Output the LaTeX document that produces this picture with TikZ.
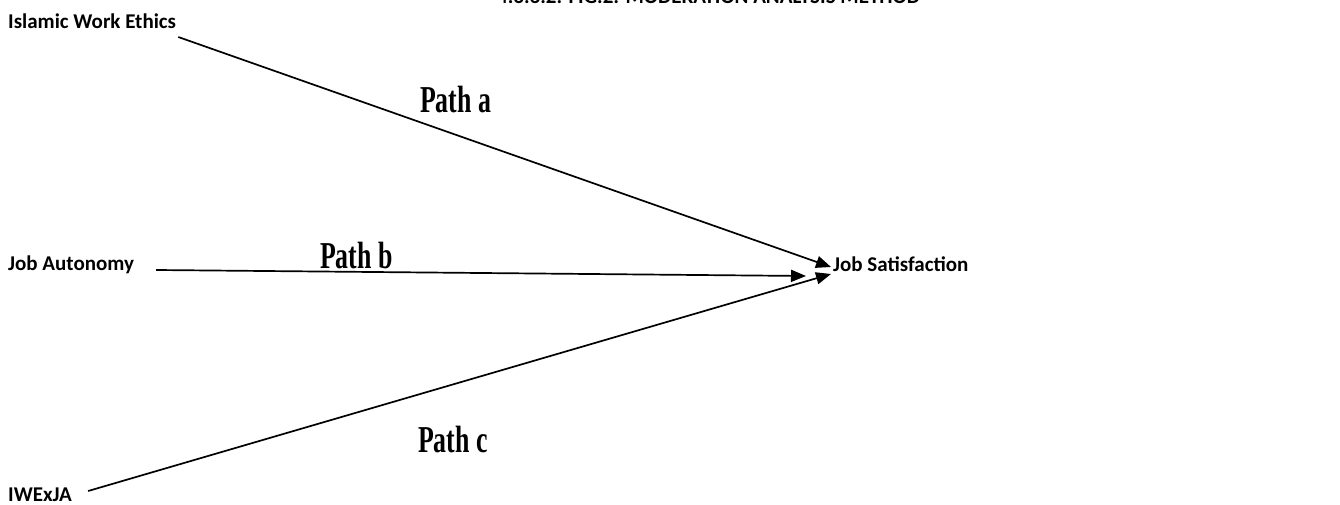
\documentclass[tikz,border=0pt]{standalone}
\usepackage{fontspec}
\setsansfont{Carlito}
\newfontfamily\pathfont{Liberation Serif}
\usepackage{graphicx}
\usetikzlibrary{arrows.meta, positioning}

\newcommand{\pathname}[1]{\scalebox{0.68}[1]{#1}}

\begin{document}
\begin{tikzpicture}[
      x=1pt, y=-1pt,
      font=\sffamily\bfseries\fontsize{21}{25}\selectfont,
      >=Latex,
      varbox/.style={
        inner sep=2pt,
        anchor=base west,
        text=black
      },
      pathlabel/.style={
        inner sep=0pt,
        anchor=base west,
        font=\pathfont\bfseries\fontsize{38}{44}\selectfont
      },
      effect/.style={-{Triangle[length=15pt,width=12pt]}, draw=black, line width=1.7pt}
    ]

    \useasboundingbox (0,0) rectangle (1340,505);

    % Caption, cut at the top edge
    \node[varbox] (caption) at (495,4) {4.3.3.2. FIG.2: MODERATION ANALYSIS METHOD};

    % Variables
    \node[varbox] (iwe) at (6,29) {Islamic Work Ethics};
    \node[varbox] (autonomy) at (6,270) {Job Autonomy};
    \node[varbox, inner sep=1pt] (iwexja) at (7,501) {IWExJA};
    \node[varbox] (satisf) at (831,271) {Job Satisfaction};

    % Paths
    \node[pathlabel] (pa) at (420,113) {\pathname{Path a}};
    \node[pathlabel] (pb) at (320,268) {\pathname{Path b}};
    \node[pathlabel] (pc) at (418,452) {\pathname{Path c}};

    \draw[effect] ([yshift=-8pt]iwe.base east) -- ([yshift=4pt]satisf.base west);
    \draw[effect] ([xshift=20pt]autonomy.base east) -- ([xshift=-25pt,yshift=-5pt]satisf.base west);
    \draw[effect] ([xshift=15pt,yshift=10pt]iwexja.base east) -- ([yshift=-3pt]satisf.base west);

  \end{tikzpicture}
\end{document}
